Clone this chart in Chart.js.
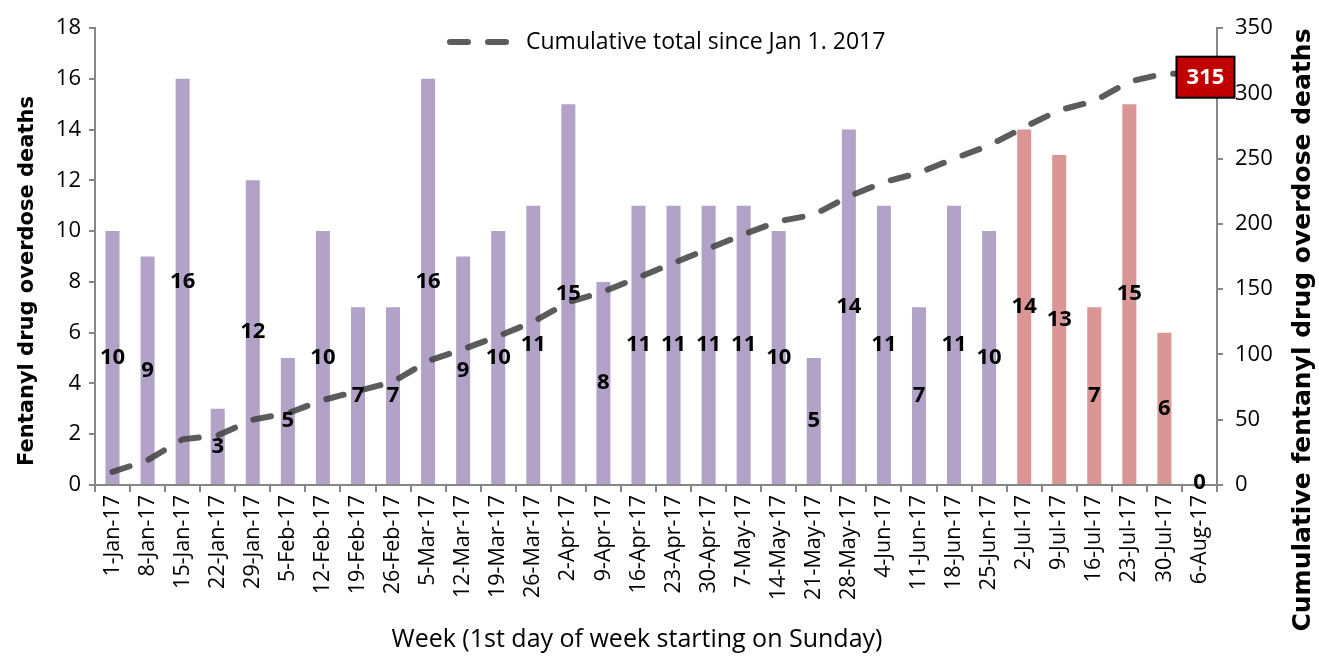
<!DOCTYPE html>
<html>
<head>
<meta charset="utf-8">
<script src="https://cdn.jsdelivr.net/npm/chart.js@4"></script>
<style>
  html, body { margin: 0; padding: 0; background: #fff; }
  #wrap { width: 1319px; height: 656px; position: relative; }
</style>
</head>
<body>
<div id="wrap"><canvas id="chartFentanyl"></canvas></div>
<script>
// ---- Données ----
const semaines = ['1-Jan-17', '8-Jan-17', '15-Jan-17', '22-Jan-17', '29-Jan-17', '5-Feb-17', '12-Feb-17',
  '19-Feb-17', '26-Feb-17', '5-Mar-17', '12-Mar-17', '19-Mar-17', '26-Mar-17', '2-Apr-17', '9-Apr-17',
  '16-Apr-17', '23-Apr-17', '30-Apr-17', '7-May-17', '14-May-17', '21-May-17', '28-May-17', '4-Jun-17',
  '11-Jun-17', '18-Jun-17', '25-Jun-17', '2-Jul-17', '9-Jul-17', '16-Jul-17', '23-Jul-17', '30-Jul-17', '6-Aug-17'];

const decesSemaine = [10, 9, 16, 3, 12, 5, 10, 7, 7, 16, 9, 10, 11, 15, 8, 11, 11, 11, 11, 10, 5, 14, 11, 7, 11, 10,
  14, 13, 7, 15, 6, 0];

const cumulTotal = [10, 19, 35, 38, 50, 55, 65, 72, 79, 95, 104, 114, 125, 140, 148, 159, 170, 181, 192, 202, 207,
  221, 232, 239, 250, 260, 274, 287, 294, 309, 315, 315];

// semaines récentes (juillet) en rouge
const semainesRecentes = ['2-Jul-17', '9-Jul-17', '16-Jul-17', '23-Jul-17', '30-Jul-17', '6-Aug-17'];

const ticksGauche = [0, 2, 4, 6, 8, 10, 12, 14, 16, 18];
const ticksDroite = [0, 50, 100, 150, 200, 250, 300, 350];

const couleursBarres = semaines.map(s => semainesRecentes.includes(s) ? '#D99694' : '#B3A2C7');

// ---- Plugins maison ----
const etiquettes = {
  id: 'etiquettes',
  afterDatasetsDraw(chart) {
    const ctx = chart.ctx;
    const meta = chart.getDatasetMeta(0);
    ctx.save();
    ctx.font = 'bold 22px "Open Sans"';
    ctx.fillStyle = '#000';
    ctx.textAlign = 'center';
    ctx.textBaseline = 'middle';
    meta.data.forEach((bar, i) => {
      const y = (bar.y + bar.base) / 2;
      ctx.fillText(String(decesSemaine[i]), bar.x, decesSemaine[i] === 0 ? y - 2 : y);
    });

    // boîte du total final
    const ligne = chart.getDatasetMeta(1).data;
    const dernier = ligne[ligne.length - 1];
    const bx = dernier.x + 6, by = dernier.y + 3;
    ctx.fillStyle = '#C00000';
    ctx.fillRect(bx - 29, by - 20, 58, 41);
    ctx.strokeStyle = '#000';
    ctx.lineWidth = 2;
    ctx.strokeRect(bx - 29, by - 20, 58, 41);
    ctx.fillStyle = '#fff';
    ctx.fillText(String(cumulTotal[cumulTotal.length - 1]), bx, by + 1);
    ctx.restore();
  }
};

// légende et titres des axes verticaux
const decor = {
  id: 'decor',
  afterDraw(chart) {
    const ctx = chart.ctx;
    const ds = chart.data.datasets[1];

    ctx.save();
    ctx.strokeStyle = ds.borderColor;
    ctx.lineWidth = ds.borderWidth;
    ctx.lineCap = ds.borderCapStyle;
    ctx.setLineDash(ds.borderDash);
    ctx.beginPath();
    ctx.moveTo(450, 42);
    ctx.lineTo(515, 42);
    ctx.stroke();
    ctx.setLineDash([]);
    ctx.fillStyle = '#000';
    ctx.font = '23px "Open Sans"';
    ctx.textAlign = 'left';
    ctx.textBaseline = 'middle';
    ctx.fillText(ds.label, 526, 42);
    ctx.restore();

    ctx.save();
    ctx.fillStyle = '#000';
    ctx.textAlign = 'center';
    ctx.textBaseline = 'middle';
    ctx.font = 'bold 21px "DejaVu Sans"';
    ctx.translate(28, 281);
    ctx.rotate(-Math.PI / 2);
    ctx.fillText('Fentanyl drug overdose deaths', 0, 0);
    ctx.restore();

    ctx.save();
    ctx.fillStyle = '#000';
    ctx.textAlign = 'center';
    ctx.textBaseline = 'middle';
    ctx.font = 'bold 25px "DejaVu Sans"';
    ctx.translate(1303, 330);
    ctx.rotate(-Math.PI / 2);
    ctx.fillText('Cumulative fentanyl drug overdose deaths', 0, 0);
    ctx.restore();

    ctx.save();
    ctx.fillStyle = '#000';
    ctx.textAlign = 'center';
    ctx.textBaseline = 'middle';
    ctx.font = '25px "Open Sans"';
    ctx.fillText('Week (1st day of week starting on Sunday)', 637, 640);
    ctx.restore();
  }
};

// ---- Graphique ----
function afficherGraphique() {
  const ctx = document.getElementById('chartFentanyl');
  const axeGris = '#868686';
  new Chart(ctx, {
    data: {
      labels: semaines,
      datasets: [{
        type: 'bar',
        label: 'Fentanyl drug overdose deaths',
        data: decesSemaine,
        backgroundColor: couleursBarres,
        barPercentage: 0.4,
        categoryPercentage: 1,
        yAxisID: 'y',
        order: 2
      }, {
        type: 'line',
        label: 'Cumulative total since Jan 1. 2017',
        data: cumulTotal,
        borderColor: 'rgba(64,64,64,0.85)',
        backgroundColor: 'rgba(64,64,64,0.85)',
        borderWidth: 6,
        borderDash: [18, 20],
        borderCapStyle: 'round',
        pointRadius: 0,
        tension: 0,
        yAxisID: 'y1',
        order: 1
      }]
    },
    options: {
      responsive: false,
      animation: false,
      layout: { padding: { top: 28, right: 0, left: 0, bottom: 0 } },
      plugins: {
        tooltip: { enabled: false },
        legend: { display: false }
      },
      scales: {
        x: {
          afterFit: s => { s.height = 171; },
          grid: { drawOnChartArea: false, tickLength: 7, color: axeGris, lineWidth: 2 },
          border: { color: axeGris, width: 2 },
          ticks: { minRotation: 90, maxRotation: 90, autoSkip: false, padding: 3, color: '#000',
            font: { family: 'Open Sans', size: 21.5 } }
        },
        y: {
          position: 'left',
          min: 0, max: 18,
          afterFit: s => { s.width = 95; },
          afterBuildTicks: s => { s.ticks = ticksGauche.map(v => ({ value: v })); },
          grid: { drawOnChartArea: false, tickLength: 6, color: axeGris, lineWidth: 2 },
          border: { color: axeGris, width: 2 },
          ticks: { padding: 8, color: '#000', font: { family: 'Open Sans', size: 22 } }
        },
        y1: {
          position: 'right',
          min: 0, max: 350,
          afterFit: s => { s.width = 102; },
          afterBuildTicks: s => { s.ticks = ticksDroite.map(v => ({ value: v })); },
          grid: { drawOnChartArea: false, tickLength: 6, color: axeGris, lineWidth: 2 },
          border: { color: axeGris, width: 2 },
          ticks: { padding: 12, color: '#000', font: { family: 'Open Sans', size: 22 } }
        }
      }
    },
    plugins: [etiquettes, decor]
  });
}

window.onload = () => {
  const c = document.getElementById('chartFentanyl');
  c.width = 1319;
  c.height = 656;
  afficherGraphique();
};
</script>
</body>
</html>
